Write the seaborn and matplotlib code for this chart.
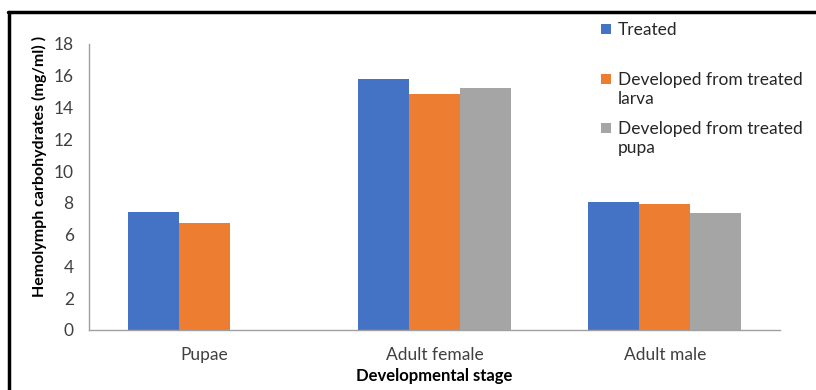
import numpy as np
import pandas as pd
import matplotlib
matplotlib.use("Agg")
import matplotlib.pyplot as plt
from matplotlib.lines import Line2D
from matplotlib.patches import Rectangle
import seaborn as sns

# Hemolymph carbohydrate values (mg/ml) by developmental stage
stages = ["Pupae", "Adult female", "Adult male"]
treated = [7.45, 15.8, 8.05]
from_larva = [6.75, 14.85, 7.95]
from_pupa = [np.nan, 15.2, 7.35]

series_names = ["Treated", "Developed from treated larva", "Developed from treated pupa"]
legend_labels = ["Treated", "Developed from treated\nlarva", "Developed from treated\npupa"]
colors = ["#4472C4", "#ED7D31", "#A5A5A5"]
yticks = [0, 2, 4, 6, 8, 10, 12, 14, 16, 18]

df = pd.DataFrame({
    "stage": stages * 3,
    "series": [series_names[0]] * 3 + [series_names[1]] * 3 + [series_names[2]] * 3,
    "value": treated + from_larva + from_pupa,
})

sns.set_theme(style="white")
plt.rcParams["font.family"] = ["Lato", "DejaVu Sans"]

fig = plt.figure(figsize=(8.16, 3.9), dpi=100)
ax = fig.add_axes([89 / 816, 1 - 330 / 390, (780 - 89) / 816, (330 - 44) / 390])

sns.barplot(data=df, x="stage", y="value", hue="series", order=stages,
            hue_order=series_names, palette=colors, width=0.665,
            saturation=1, errorbar=None, legend=False, linewidth=0, ax=ax)

ax.set_xlim(-0.5, 2.5)
ax.set_ylim(0, 18)
ax.set_yticks(yticks)
ax.set_yticklabels([str(v) for v in yticks])
ax.tick_params(axis="both", length=0, labelsize=12.5, colors="#404040")
ax.tick_params(axis="y", pad=11)
ax.tick_params(axis="x", pad=12)
for s in ["top", "right"]:
    ax.spines[s].set_visible(False)
for s in ["left", "bottom"]:
    ax.spines[s].set_color("#A0A0A0")
    ax.spines[s].set_linewidth(1.0)

ax.set_xlabel("Developmental stage", fontsize=12, fontweight="bold", color="black")
ax.set_ylabel("Hemolymph carbohydrates (mg/ml) )", fontsize=11.5, fontweight="bold",
              color="black")
ax.xaxis.set_label_coords(0.5, -(376 - 330) / 286, transform=ax.transAxes)
ax.xaxis.label.set_va("center")
ax.yaxis.set_label_coords(-(89 - 39) / 691, (330 - 166) / 286, transform=ax.transAxes)
ax.yaxis.label.set_va("center")

# Legend drawn as swatches with text at the upper right
legend_y = [29, 79, 128]
for lab, col, yp in zip(legend_labels, colors, legend_y):
    fig.patches.append(Rectangle((601 / 816, 1 - (yp + 5) / 390), 10 / 816, 10 / 390,
                                 transform=fig.transFigure, facecolor=col,
                                 edgecolor="none", figure=fig))
    fig.text(618 / 816, 1 - (yp - 7) / 390, lab, fontsize=12.5, color="#262626",
             va="top", ha="left", linespacing=1.2)

# Frame lines along the left and top edges
fig.add_artist(Line2D([9 / 816, 9 / 816], [0, 1 - 12 / 390], transform=fig.transFigure,
                      color="black", linewidth=2.5))
fig.add_artist(Line2D([8 / 816, 1], [1 - 12 / 390, 1 - 12 / 390], transform=fig.transFigure,
                      color="black", linewidth=2.5))

fig.savefig("out.png", dpi=100, facecolor="white")
